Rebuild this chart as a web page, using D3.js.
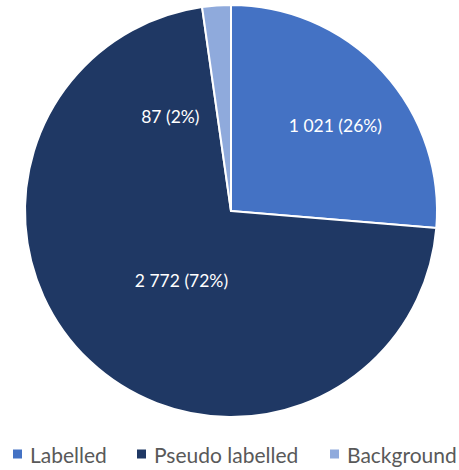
<!DOCTYPE html>
<html>
<head>
<meta charset="utf-8">
<script src="https://cdn.jsdelivr.net/npm/d3@7"></script>
<style>
  html, body { margin: 0; padding: 0; background: #fff; }
  svg { display: block; }
</style>
</head>
<body>
<svg id="chart" width="459" height="470"></svg>
<script>
// Dataset composition
const categories = ["Labelled", "Pseudo labelled", "Background"];
const counts = [1021, 2772, 87];
const percentLabels = ["26%", "72%", "2%"];
const colors = ["#4472C4", "#1F3864", "#8FAADC"];

const width = 459, height = 470;
const cx = 231, cy = 211, radius = 206;
const fontFamily = "Lato, 'Open Sans', sans-serif";

const svg = d3.select("#chart");
const g = svg.append("g").attr("transform", `translate(${cx},${cy})`);

const data = categories.map((c, i) => ({ name: c, value: counts[i], pct: percentLabels[i], color: colors[i] }));

const pie = d3.pie().value(d => d.value).sort(null);
const arcs = pie(data);
const arc = d3.arc().innerRadius(0).outerRadius(radius);

g.selectAll("path.slice")
  .data(arcs)
  .join("path")
  .attr("class", "slice")
  .attr("d", arc)
  .attr("fill", d => d.data.color)
  .attr("stroke", "#fff")
  .attr("stroke-width", 2)
  .attr("stroke-linejoin", "round");

// label placement: radius fraction and angular shift per slice
const labelPlace = [
  { r: 0.655, shift: 0.058 },
  { r: 0.414, shift: -0.136 },
  { r: 0.545, shift: -0.5 }
];

const fmt = v => d3.format(",")(v).replace(/,/g, " ");

g.selectAll("text.value")
  .data(arcs)
  .join("text")
  .attr("class", "value")
  .attr("transform", (d, i) => {
    const a = (d.startAngle + d.endAngle) / 2 + labelPlace[i].shift;
    const r = radius * labelPlace[i].r;
    return `translate(${r * Math.sin(a)},${-r * Math.cos(a)})`;
  })
  .attr("text-anchor", "middle")
  .attr("dominant-baseline", "central")
  .attr("fill", "#fff")
  .attr("font-family", fontFamily)
  .attr("font-size", 17.5)
  .text(d => `${fmt(d.data.value)} (${d.data.pct})`);

// Legend
const legendX = [13, 137, 330];
const legend = svg.append("g").attr("transform", "translate(0,454)");
const items = legend.selectAll("g.item")
  .data(data)
  .join("g")
  .attr("class", "item")
  .attr("transform", (d, i) => `translate(${legendX[i]},0)`);
items.append("rect")
  .attr("x", 0).attr("y", -4.5)
  .attr("width", 9).attr("height", 9)
  .attr("fill", d => d.color);
items.append("text")
  .attr("x", 17)
  .attr("y", 0)
  .attr("dominant-baseline", "central")
  .attr("fill", "#595959")
  .attr("font-family", fontFamily)
  .attr("font-size", 21)
  .text(d => d.name);
</script>
</body>
</html>
